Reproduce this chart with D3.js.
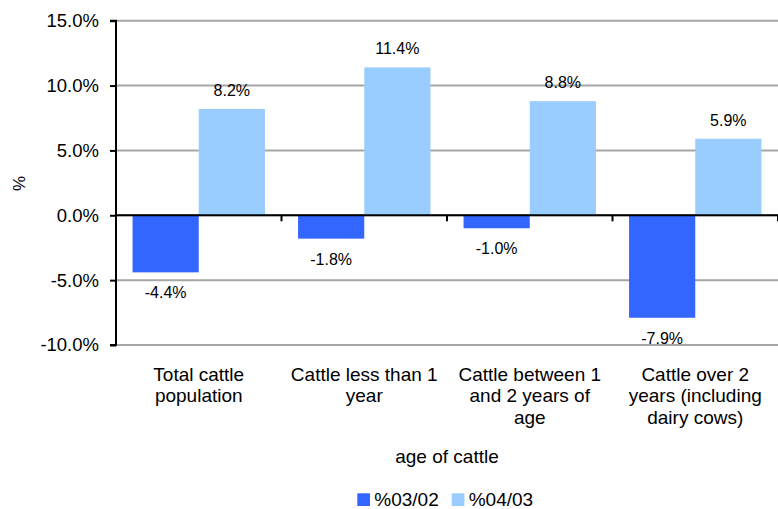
<!DOCTYPE html>
<html>
<head>
<meta charset="utf-8">
<script src="https://cdn.jsdelivr.net/npm/d3@7"></script>
<style>
  body { margin: 0; background: #fff; }
  text { font-family: "Liberation Sans", Arial, sans-serif; fill: #000; }
</style>
</head>
<body>
<div id="chart"></div>
<script>
// data
const categories = [
    ["Total cattle", "population"],
    ["Cattle less than 1", "year"],
    ["Cattle between 1", "and 2 years of", "age"],
    ["Cattle over 2", "years (including", "dairy cows)"]
]
const seriesNames = ["%03/02", "%04/03"]
const values0302 = [-4.4, -1.8, -1.0, -7.9]
const values0403 = [8.2, 11.4, 8.8, 5.9]
const yTicks = [-10, -5, 0, 5, 10, 15]
const colors = ["#3366ff", "#99ccff"]

const W = 778, H = 509
const margin = {top: 20.7, right: 0, bottom: 164, left: 116}
const width = W - margin.left - margin.right
const height = H - margin.top - margin.bottom

const svg = d3.select("#chart").append("svg")
    .attr("width", W)
    .attr("height", H)

const g = svg.append("g")
    .attr("transform", `translate(${margin.left},${margin.top})`)

const x0 = d3.scaleBand()
    .domain(d3.range(categories.length))
    .range([0, width])
    .paddingInner(0.2)
    .paddingOuter(0.1)

const x1 = d3.scaleBand()
    .domain([0, 1])
    .range([0, x0.bandwidth()])

const y = d3.scaleLinear()
    .domain([-10, 15])
    .range([height, 0])

// gridlines
g.append("g")
    .selectAll("line")
    .data(yTicks)
    .join("line")
    .attr("x1", 0)
    .attr("x2", width)
    .attr("y1", d => y(d))
    .attr("y2", d => y(d))
    .attr("stroke", "#a6a6a6")
    .attr("stroke-width", 2)

// bars
const rows = categories.map((c, i) => [values0302[i], values0403[i]])

const groups = g.selectAll(".grp")
    .data(rows)
    .join("g")
    .attr("class", "grp")
    .attr("transform", (d, i) => `translate(${x0(i)},0)`)

groups.selectAll("rect")
    .data(d => d.map((v, k) => ({v, k})))
    .join("rect")
    .attr("x", d => x1(d.k))
    .attr("width", x1.bandwidth())
    .attr("y", d => y(Math.max(0, d.v)))
    .attr("height", d => Math.abs(y(d.v) - y(0)))
    .attr("fill", d => colors[d.k])

groups.selectAll(".lbl")
    .data(d => d.map((v, k) => ({v, k})))
    .join("text")
    .attr("class", "lbl")
    .attr("x", d => x1(d.k) + x1.bandwidth() / 2)
    .attr("y", d => d.v >= 0 ? y(d.v) - 13 : y(d.v) + 26)
    .attr("text-anchor", "middle")
    .style("font-size", "16px")
    .text(d => d.v.toFixed(1) + "%")

// y axis
const yAxis = d3.axisLeft(y)
    .tickValues(yTicks)
    .tickSize(6)
    .tickPadding(11)
    .tickFormat(d => d.toFixed(1) + "%")

const yGroup = g.append("g").call(yAxis)
yGroup.select(".domain").attr("stroke", "#000").attr("stroke-width", 2).attr("d", `M-6,${height}H0V0H-6`)
yGroup.selectAll(".tick line").attr("stroke", "#000").attr("stroke-width", 2)
yGroup.selectAll(".tick text")
    .style("font-size", "18.5px")
    .style("font-family", "'Liberation Sans', Arial, sans-serif")
    .attr("fill", "#000")

// zero line with category ticks
g.append("line")
    .attr("x1", 0)
    .attr("x2", width)
    .attr("y1", y(0))
    .attr("y2", y(0))
    .attr("stroke", "#000")
    .attr("stroke-width", 2)

const bounds = d3.range(categories.length + 1).map(i => i * x0.step())
g.append("g")
    .selectAll("line")
    .data(bounds)
    .join("line")
    .attr("x1", d => d)
    .attr("x2", d => d)
    .attr("y1", y(0))
    .attr("y2", y(0) + 6)
    .attr("stroke", "#000")
    .attr("stroke-width", 2)

// category labels
const catText = g.append("g")
    .selectAll("text")
    .data(categories)
    .join("text")
    .attr("x", (d, i) => x0(i) + x0.bandwidth() / 2)
    .attr("y", 380.7 - margin.top)
    .attr("text-anchor", "middle")
    .style("font-size", "19px")

catText.selectAll("tspan")
    .data(d => d)
    .join("tspan")
    .attr("x", function() { return d3.select(this.parentNode).attr("x") })
    .attr("dy", (d, i) => i === 0 ? 0 : 21.7)
    .text(d => d)

// axis titles
svg.append("text")
    .attr("x", margin.left + width / 2)
    .attr("y", 462.5)
    .attr("text-anchor", "middle")
    .style("font-size", "19px")
    .text("age of cattle")

svg.append("text")
    .attr("transform", "translate(25,183.5) rotate(-90)")
    .attr("text-anchor", "middle")
    .style("font-size", "17px")
    .text("%")

// legend
const legendX = [357.3, 451.7]
const legend = svg.append("g")
    .selectAll("g")
    .data(seriesNames)
    .join("g")
    .attr("transform", (d, i) => `translate(${legendX[i]},493.3)`)

legend.append("rect")
    .attr("width", 12.7)
    .attr("height", 12.7)
    .attr("fill", (d, i) => colors[i])

legend.append("text")
    .attr("x", 17)
    .attr("y", 12.7)
    .style("font-size", "19px")
    .text(d => d)
</script>
</body>
</html>
